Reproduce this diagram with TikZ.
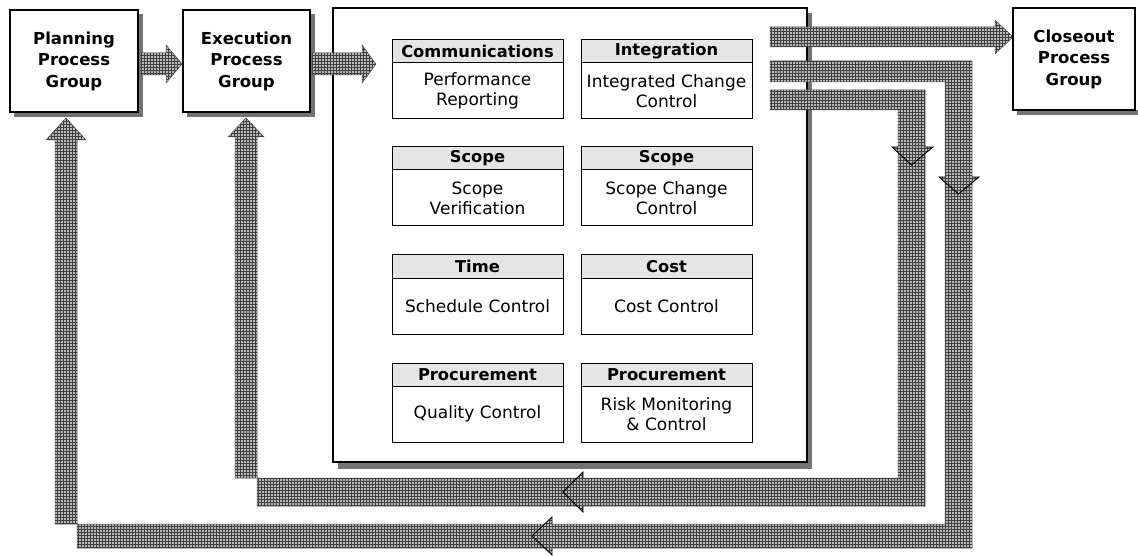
\documentclass[tikz,border=0pt]{standalone}
\usepackage{fontspec}
\setmainfont{DejaVu Sans}
\usetikzlibrary{patterns}
\begin{document}
\begin{tikzpicture}[x=1pt,y=-1pt,
  every node/.style={inner sep=0pt,outer sep=0pt},
  groupbox/.style={draw=black,line width=1.1pt,fill=white,minimum height=102pt,
    align=center,font=\fontsize{16.5}{21.5}\selectfont\bfseries},
  shade/.style={fill=black!55},
  bandfill/.style={preaction={fill=black!28},pattern=grid,pattern color=black!75},
  band/.style={bandfill,draw=black!70,line width=0.5pt,line join=miter},
  hdr/.style={draw=black,line width=1pt,fill=black!10,minimum width=171pt,
    minimum height=23pt,font=\fontsize{16.3}{19}\selectfont\bfseries},
  body/.style={draw=black,line width=1pt,fill=white,minimum width=171pt,
    minimum height=56pt,align=center,font=\fontsize{17}{20}\selectfont},
  chev/.style={draw=black,line width=0.9pt,line join=miter}
]
\useasboundingbox (0,0) rectangle (1138,556);
\fill[white] (0,0) rectangle (1138,556);

% drop shadows
\fill[shade] (14,112) rectangle (143,117);
\fill[shade] (138,14) rectangle (143,117);
\fill[shade] (187,112) rectangle (315,117);
\fill[shade] (310,14) rectangle (315,117);
\fill[shade] (1017,110) rectangle (1138,115);
\fill[shade] (338,462) rectangle (812,469);
\fill[shade] (807,13) rectangle (812,469);

% monitoring and controlling container
\node[draw=black,line width=1.2pt,fill=white,minimum width=474pt,minimum height=454pt,
  anchor=north west] (ctl) at (333,8) {};

% knowledge-area boxes: header strip over a process body
\newcommand\kabox[5]{%
  \node[hdr,anchor=north west] (#1h) at (#2,#3) {#4};
  \node[body,anchor=north] (#1b) at (#1h.south) {#5};}
\kabox{comm}{392}{40}{Communications}{Performance\\Reporting}
\kabox{integ}{581}{40}{Integration}{Integrated Change\\Control}
\kabox{scopea}{392}{147}{Scope}{Scope\\Verification}
\kabox{scopeb}{581}{147}{Scope}{Scope Change\\Control}
\kabox{time}{392}{255}{Time}{Schedule Control}
\kabox{cost}{581}{255}{Cost}{Cost Control}
\kabox{procq}{392}{363}{Procurement}{Quality Control}
\kabox{procr}{581}{363}{Procurement}{Risk Monitoring\\\& Control}

% block arrows
\path[band] (140,53) -- (166,53) -- (166,45) -- (182,64) -- (166,83) -- (166,75) -- (140,75) -- cycle;
\path[band] (312,53) -- (362,53) -- (362,45) -- (376,64) -- (362,83) -- (362,75) -- (312,75) -- cycle;
\path[band] (770,27) -- (995,27) -- (995,20) -- (1013,37) -- (995,54) -- (995,47) -- (770,47) -- cycle;
% feedback loop to planning
\path[band] (770,61) -- (972,61) -- (972,548) -- (77,548) -- (77,140) -- (86,140) -- (66,118)
  -- (46,140) -- (55,140) -- (55,524) -- (945,524) -- (945,82) -- (770,82) -- cycle;
% feedback loop to execution
\path[band] (770,90) -- (925,90) -- (925,506) -- (257,506) -- (257,137) -- (264,137) -- (246,118)
  -- (228,137) -- (235,137) -- (235,478) -- (898,478) -- (898,110) -- (770,110) -- cycle;

% direction chevrons on the loops
\path[bandfill] (892,147) -- (933,147) -- (911.5,165) -- cycle;
\draw[chev] (898,147) -- (892,147) -- (911.5,165) -- (933,147) -- (925,147);
\path[bandfill] (939,177) -- (979,177) -- (958.5,194) -- cycle;
\draw[chev] (945,177) -- (939,177) -- (958.5,194) -- (979,177) -- (972,177);
\path[bandfill] (583,472) -- (583,512) -- (563,492) -- cycle;
\draw[chev] (583,478) -- (583,472) -- (563,492) -- (583,512) -- (583,506);
\path[bandfill] (552,517) -- (552,555) -- (532,536) -- cycle;
\draw[chev] (552,524) -- (552,517) -- (532,536) -- (552,555) -- (552,548);

% process groups
\node[groupbox,minimum width=128pt,anchor=north west] (plan) at (10,10) {Planning\\Process\\Group};
\node[groupbox,minimum width=127pt,anchor=north west] (exec) at (183,10) {Execution\\Process\\Group};
\node[groupbox,minimum width=122pt,anchor=north west] (close) at (1013,8) {Closeout\\Process\\Group};
\end{tikzpicture}
\end{document}
